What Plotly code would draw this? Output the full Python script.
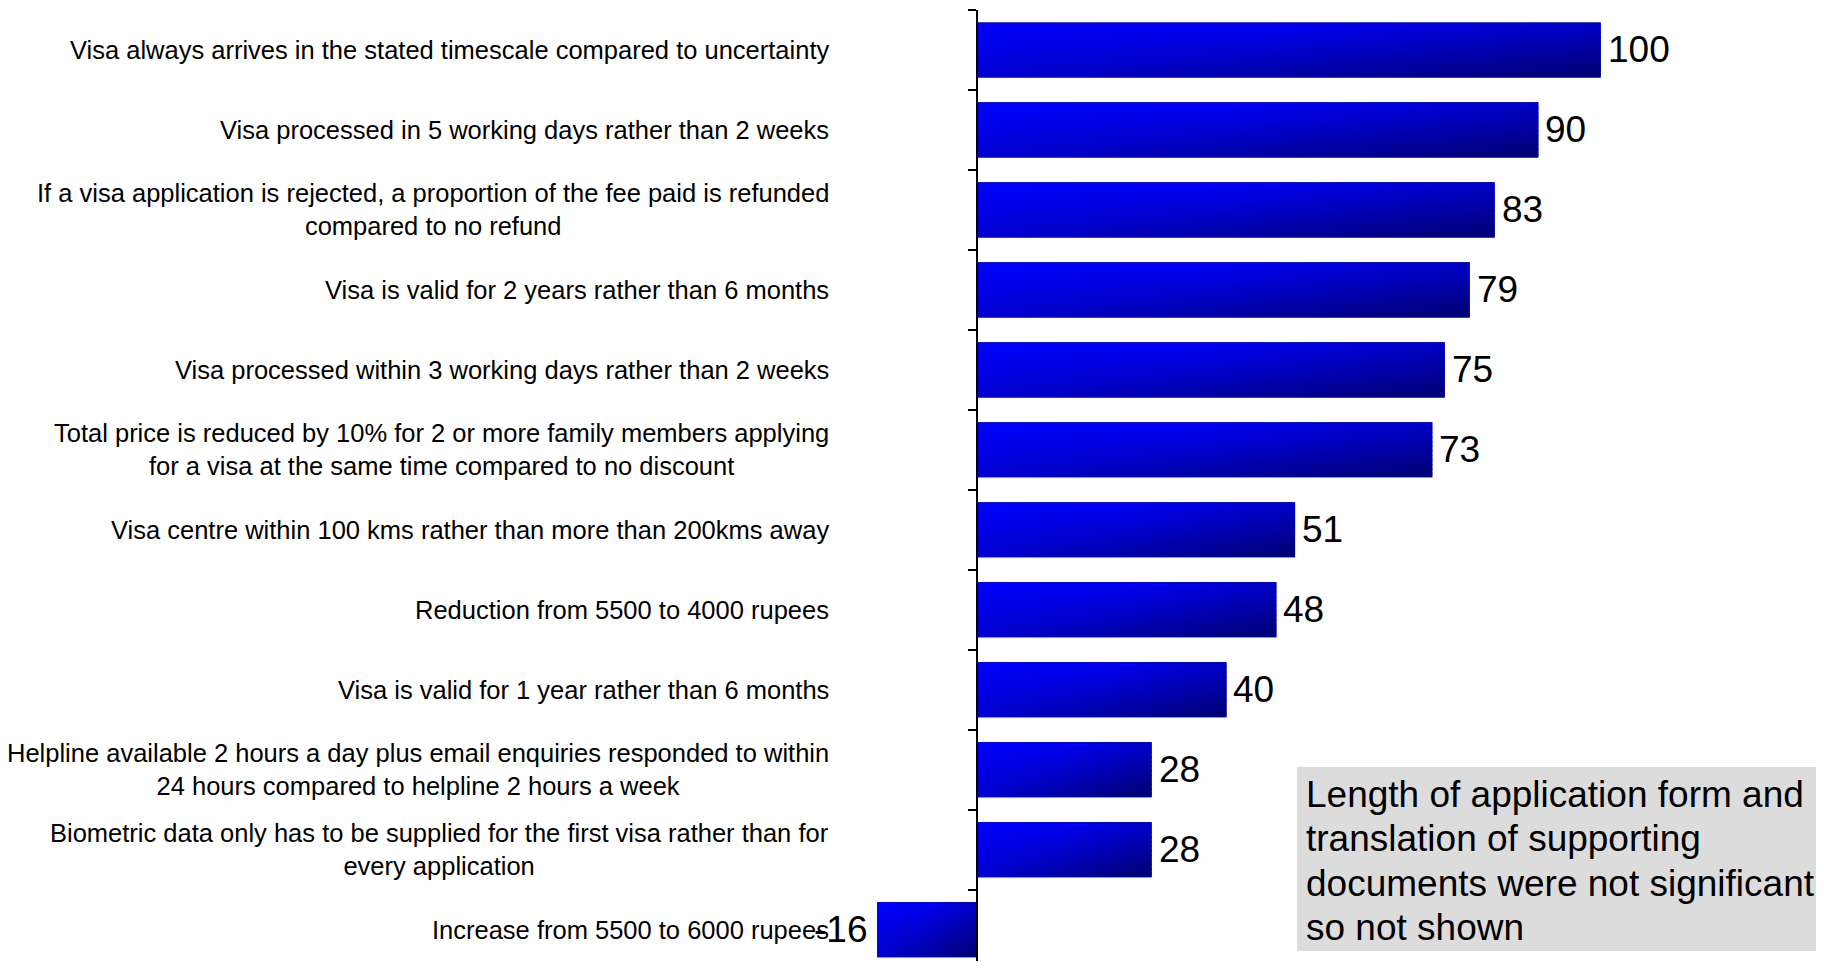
import plotly.graph_objects as go

labels = [
    "Visa always arrives in the stated timescale compared to uncertainty",
    "Visa processed in 5 working days rather than 2 weeks",
    "If a visa application is rejected, a proportion of the fee paid is refunded<br>compared to no refund",
    "Visa is valid for 2 years rather than 6 months",
    "Visa processed within 3 working days rather than 2 weeks",
    "Total price is reduced by 10% for 2 or more family members applying<br>for a visa at the same time compared to no discount",
    "Visa centre within 100 kms rather than more than 200kms away",
    "Reduction from 5500 to 4000 rupees",
    "Visa is valid for 1 year rather than 6 months",
    "Helpline available 2 hours a day plus email enquiries responded to within<br>24 hours compared to helpline 2 hours a week",
    "Biometric data only has to be supplied for the first visa rather than for<br>every application",
    "Increase from 5500 to 6000 rupees",
]
values = [100, 90, 83, 79, 75, 73, 51, 48, 40, 28, 28, -16]
note_lines = [
    "Length of application form and",
    "translation of supporting",
    "documents were not significant",
    "so not shown",
]

FONT = "Liberation Sans, Arial, sans-serif"
# page has an 8px body margin, figure is sized to fit inside it
W, H, TOP = 1808, 953, 2


def paper_x(px):
    return (px - 8) / W


def paper_y(py):
    return (H + 8 - py) / (H - TOP)


xmin, xmax = -155.36, 134.52
bar_w = 0.69
pos = list(range(len(values)))

fig = go.Figure()

fig.add_trace(go.Bar(
    x=values, y=pos, orientation="h", width=bar_w,
    marker=dict(color="#0000c0", line=dict(width=0)),
    hoverinfo="skip", showlegend=False,
))


# diagonal blue gradient: each bar cut into thin strips, each strip with a horizontal gradient
def blue(b):
    return "rgb(0,0,%d)" % round(b)


K = 12
for i, v in zip(pos, values):
    x0, x1 = min(0, v), max(0, v)
    top = i - bar_w / 2
    h = bar_w / K
    for k in range(K):
        ty = (k + 0.5) / K
        ya = top + k * h
        yb = ya + h * (1.4 if k < K - 1 else 1.0)
        fig.add_trace(go.Scatter(
            x=[x0, x1, x1, x0, x0], y=[ya, ya, yb, yb, ya],
            mode="lines", line=dict(width=0), fill="toself",
            fillgradient=dict(
                type="horizontal", start=x0, stop=x1,
                colorscale=[[0, blue(255 - 47 * ty)],
                            [0.5, blue(245 - 85 * ty)],
                            [1, blue(200 - 88 * ty)]],
            ),
            hoverinfo="skip", showlegend=False,
        ))

annotations = []
for i, lab in zip(pos, labels):
    annotations.append(dict(
        text=lab, x=paper_x(831), xref="paper", y=i, yref="y",
        xanchor="right", yanchor="middle", align="center", showarrow=False,
        font=dict(family=FONT, size=25.5, color="black"),
    ))

for i, v in zip(pos, values):
    annotations.append(dict(
        text=str(v), x=v, xref="x", y=i, yref="y",
        xanchor="left" if v >= 0 else "right", xshift=5 if v >= 0 else -8,
        yanchor="middle", showarrow=False,
        font=dict(family=FONT, size=37, color="black"),
    ))

for n, line in enumerate(note_lines):
    annotations.append(dict(
        text=line, x=paper_x(1304), xref="paper", y=paper_y(794.5 + 44.4 * n), yref="paper",
        xanchor="left", yanchor="middle", align="left", showarrow=False,
        font=dict(family=FONT, size=37, color="black"),
    ))

fig.update_layout(
    width=W, height=H,
    margin=dict(l=0, r=0, t=TOP, b=0),
    paper_bgcolor="white", plot_bgcolor="white",
    barmode="overlay",
    xaxis=dict(range=[xmin, xmax], visible=False, fixedrange=True),
    yaxis=dict(
        range=[-0.5 + (H - TOP) / 79.96, -0.5],
        anchor="free", position=-xmin / (xmax - xmin),
        showline=True, linecolor="black", linewidth=1.5,
        ticks="outside", ticklen=8, tickwidth=1.5, tickcolor="black",
        tickvals=[p - 0.5 for p in pos] + [len(values) - 0.5],
        showticklabels=False, showgrid=False, zeroline=False,
    ),
    shapes=[dict(
        type="rect", xref="paper", yref="paper",
        x0=paper_x(1297), x1=1.01, y0=paper_y(951), y1=paper_y(767),
        fillcolor="#dcdcdc", line=dict(width=0), layer="below",
    )],
    annotations=annotations,
)

fig.write_html("out.html")
